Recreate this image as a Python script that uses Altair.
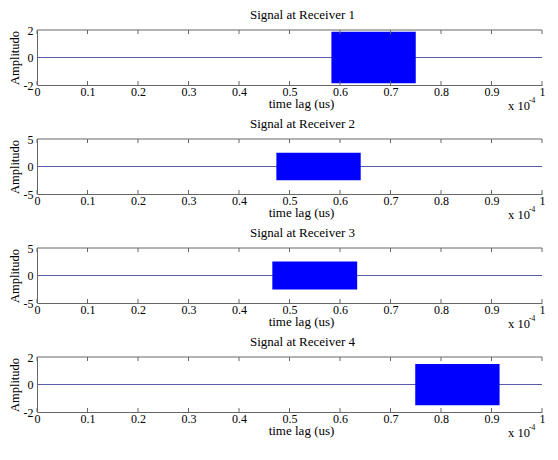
import altair as alt
import pandas as pd

titles = ["Signal at Receiver 1", "Signal at Receiver 2", "Signal at Receiver 3", "Signal at Receiver 4"]
burst_start = [0.583, 0.474, 0.466, 0.749]
burst_end = [0.750, 0.641, 0.634, 0.916]
burst_amp = [1.87, 2.5, 2.55, 1.5]
y_limit = [2, 5, 5, 2]
x_ticks = [0, 0.1, 0.2, 0.3, 0.4, 0.5, 0.6, 0.7, 0.8, 0.9, 1]

W, H = 505, 55
FONT = "Liberation Serif"
AX = "#666666"
LINE = "#5a5aa8"

panels = []
for i in range(4):
    lim = y_limit[i]
    xs = alt.Scale(domain=[0, 1], nice=False, zero=False)
    ys = alt.Scale(domain=[-lim, lim], nice=False)
    burst = pd.DataFrame({"x0": [burst_start[i]], "x1": [burst_end[i]],
                          "top": [burst_amp[i]], "bot": [-burst_amp[i]]})
    ticks = pd.DataFrame({"t": x_ticks})

    xaxis = alt.Axis(values=x_ticks, format="~g", ticks=False, grid=False, domainColor=AX,
                     labelFont=FONT, labelFontSize=12, labelColor="black", labelPadding=1,
                     labelFlush=False, labelOverlap=False,
                     title="time lag (us)", titleFont=FONT, titleFontSize=13,
                     titleFontWeight="normal", titleColor="black", titlePadding=0, titleX=264)
    yaxis = alt.Axis(values=[-lim, 0, lim], ticks=False, grid=False, domainColor=AX,
                     labelFont=FONT, labelFontSize=12, labelColor="black", labelPadding=4,
                     labelFlush=False, labelOverlap=False, labelExpr="'' + datum.value",
                     title="Amplitudo", titleFont=FONT, titleFontSize=12.5,
                     titleFontWeight="normal", titleColor="black", titlePadding=2)

    zero = alt.Chart(pd.DataFrame({"y": [0]})).mark_rule(color=LINE, strokeWidth=1).encode(
        y=alt.Y("y:Q", scale=ys, axis=yaxis)
    )
    rect = alt.Chart(burst).mark_rect(color="#0000ff").encode(
        x=alt.X("x0:Q", scale=xs, axis=xaxis), x2="x1:Q",
        y=alt.Y("top:Q", scale=ys, axis=yaxis), y2="bot:Q"
    )
    top_line = alt.Chart(pd.DataFrame({"y": [0]})).mark_rule(color=AX, strokeWidth=1).encode(
        y=alt.value(0)
    )
    tick_top = alt.Chart(ticks).mark_rule(color=AX, strokeWidth=1).encode(
        x=alt.X("t:Q", scale=xs, axis=xaxis), y=alt.value(0), y2=alt.value(4)
    )
    tick_bot = alt.Chart(ticks).mark_rule(color=AX, strokeWidth=1).encode(
        x=alt.X("t:Q", scale=xs, axis=xaxis), y=alt.value(H - 4), y2=alt.value(H)
    )
    mult = alt.Chart(pd.DataFrame({"s": ["x 10"]})).mark_text(
        font=FONT, fontSize=12.5, align="left", baseline="middle", color="black"
    ).encode(text="s:N", x=alt.value(471), y=alt.value(H + 21))
    expo = alt.Chart(pd.DataFrame({"s": ["-4"]})).mark_text(
        font=FONT, fontSize=7.5, align="left", baseline="middle", color="black"
    ).encode(text="s:N", x=alt.value(492), y=alt.value(H + 16))

    panel = alt.layer(zero, rect, top_line, tick_top, tick_bot, mult, expo).properties(
        width=W, height=H,
        title=alt.TitleParams(titles[i], font=FONT, fontSize=13, fontWeight="normal",
                              color="black", offset=2, dx=13, anchor="middle")
    )
    panels.append(panel)

chart = alt.vconcat(*panels, spacing=54, bounds="flush").resolve_scale(
    y="independent"
).properties(
    padding={"left": 0, "top": 1, "right": 0, "bottom": 0},
    background="white",
).configure_view(stroke=None)

chart.save("out.html", embed_options={"renderer": "svg", "actions": False})
